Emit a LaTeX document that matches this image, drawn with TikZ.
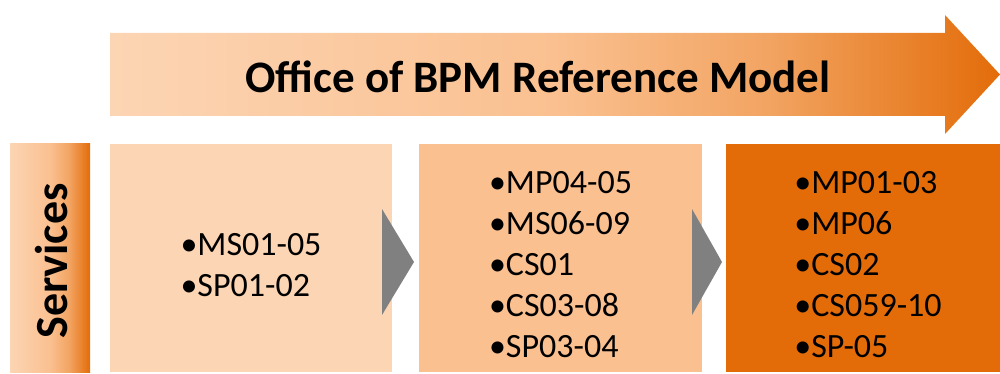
\documentclass[tikz,border=0pt]{standalone}
\usepackage{fontspec}
\setmainfont{Carlito}
\usepackage{xcolor}
\definecolor{PeachLight}{HTML}{FCD5B4}
\definecolor{PeachMid}{HTML}{FAC090}
\definecolor{PeachDeep}{HTML}{F2A462}
\definecolor{BurntOrange}{HTML}{E36C09}
\definecolor{ChevronGray}{HTML}{808080}
\usepackage{tikz}
\usetikzlibrary{positioning,calc}
\pgfdeclarehorizontalshading{flowshade}{100bp}{color(0bp)=(PeachLight); color(25bp)=(PeachLight); color(50bp)=(PeachMid); color(62bp)=(PeachDeep); color(75bp)=(BurntOrange); color(100bp)=(BurntOrange)}
\tikzset{
  stagebox/.style={minimum width=283pt, minimum height=228pt, inner sep=0pt, outer sep=0pt},
  svcbar/.style={shade, shading=flowshade, minimum width=80pt, minimum height=228pt, inner sep=0pt, outer sep=0pt},
  svctext/.style={rotate=90, font=\fontsize{46}{55}\selectfont\bfseries, inner sep=0pt},
  titletxt/.style={font=\fontsize{45}{54}\selectfont\bfseries, inner sep=0pt},
  listtxt/.style={align=left, font=\fontsize{34}{41}\selectfont, inner sep=0pt},
  chevron/.style={fill=ChevronGray},
  flowarr/.style={shading=flowshade}
}

\begin{document}
\begin{tikzpicture}[x=1pt, y=1pt]
\useasboundingbox (0,0) rectangle (1000,-374);
% reference model arrow
\shade[flowarr] (110,-33) -- (945,-33) -- (945,-15) -- (1000,-74.5) -- (945,-134) -- (945,-116) -- (110,-116) -- cycle;
\node[titletxt] (title) at (538,-77) {Office of BPM Reference Model};
% services row
\node[svcbar] (svc) at (50,-258) {};
\node[svctext] (svclbl) at ([xshift=2pt, yshift=-3pt]svc.center) {Services};
\node[stagebox, fill=PeachLight, minimum width=282pt, right=20pt of svc] (b1) {};
\node[stagebox, fill=PeachMid, right=27pt of b1] (b2) {};
\node[stagebox, fill=BurntOrange, minimum width=274pt, right=24pt of b2] (b3) {};
% chevrons between stages
\fill[chevron] ($(b1.east)+(-10,49)$) -- ($(b1.east)+(22,-4)$) -- ($(b1.east)+(-10,-57)$) -- cycle;
\fill[chevron] ($(b2.east)+(-10,49)$) -- ($(b2.east)+(20,-4)$) -- ($(b2.east)+(-10,-57)$) -- cycle;
% service lists
\node[listtxt] (l1) at ([yshift=-7pt]b1.center) {•MS01-05\\•SP01-02};
\node[listtxt] (l2) at ([yshift=-7pt]b2.center) {•MP04-05\\•MS06-09\\•CS01\\•CS03-08\\•SP03-04};
\node[listtxt] (l3) at ([xshift=5pt, yshift=-7pt]b3.center) {•MP01-03\\•MP06\\•CS02\\•CS059-10\\•SP-05};
\end{tikzpicture}
\end{document}
